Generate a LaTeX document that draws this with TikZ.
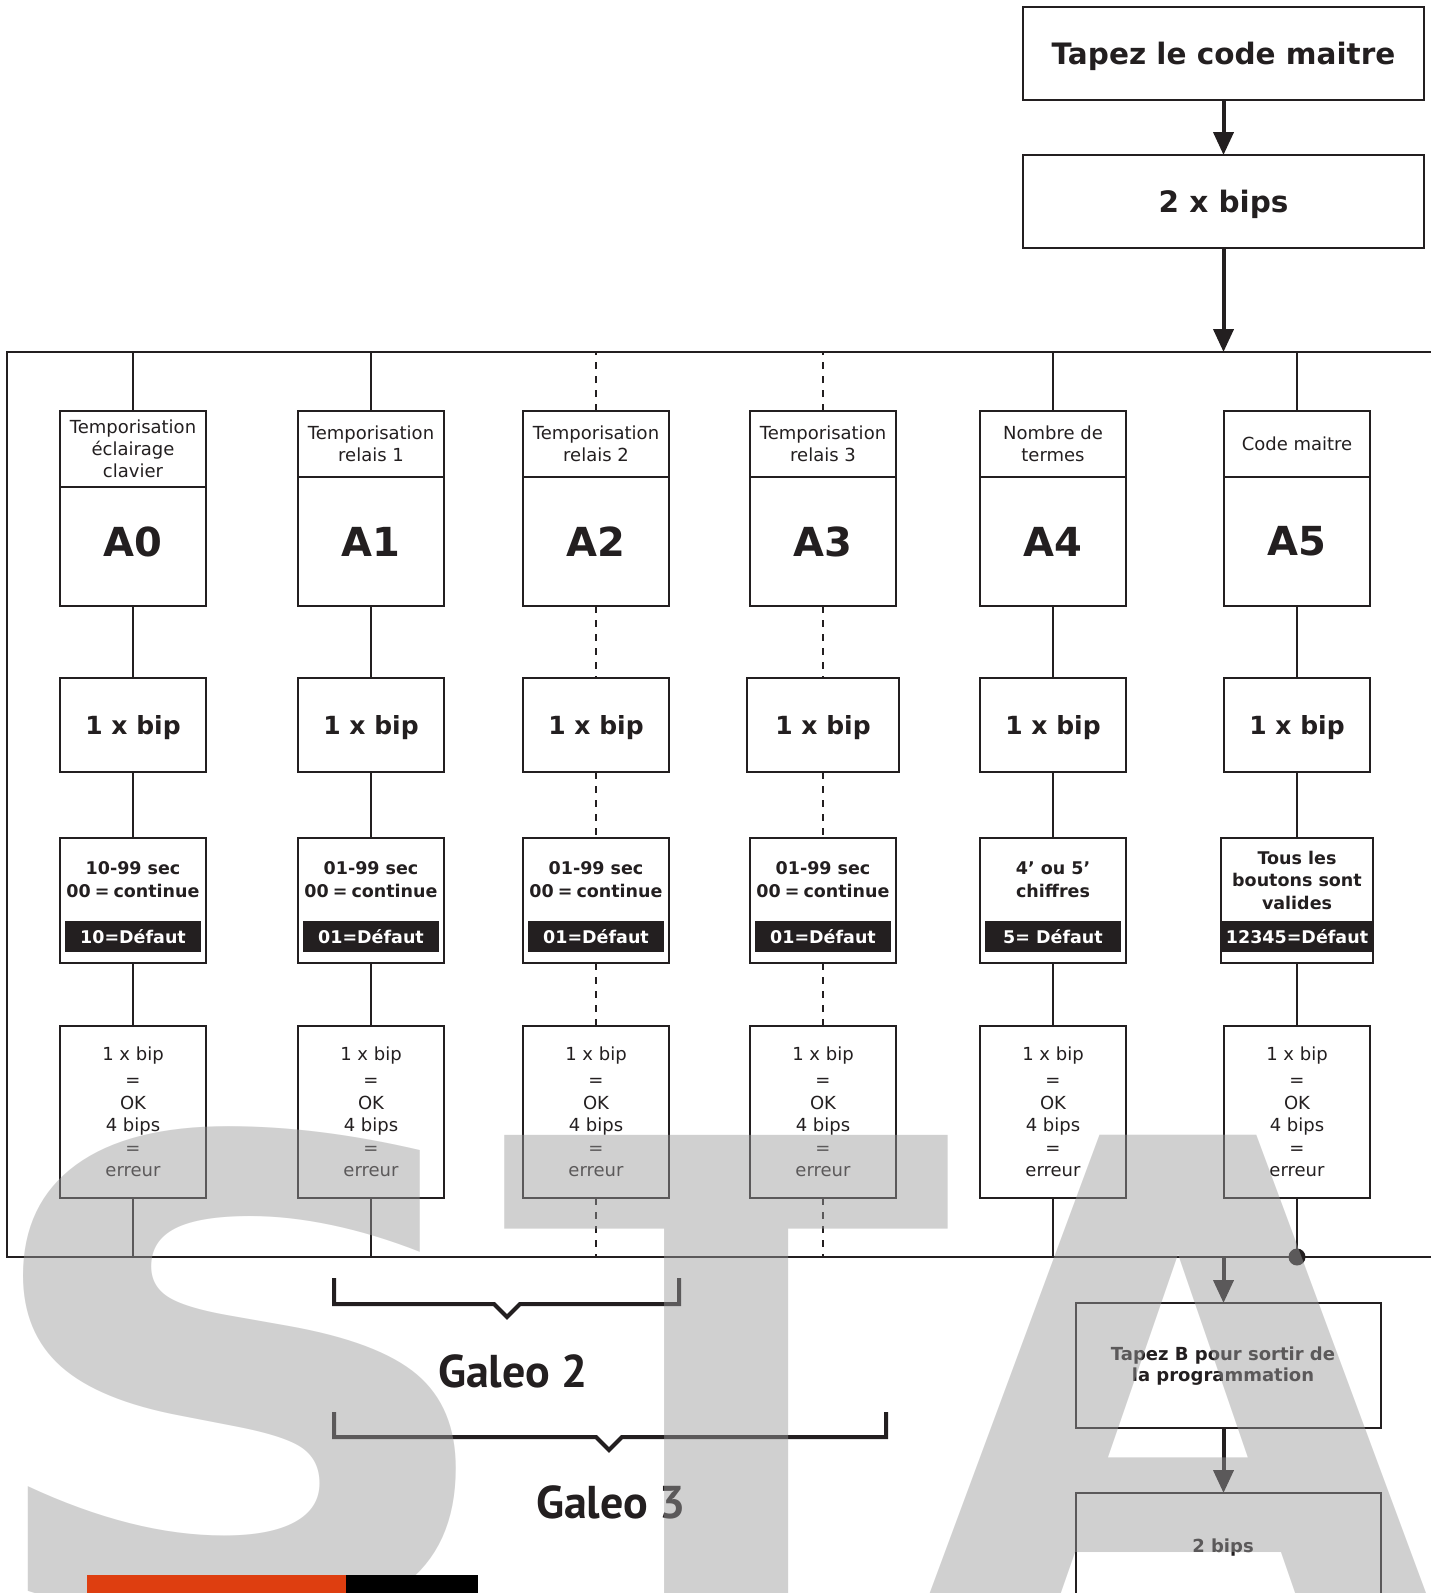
\documentclass[tikz,border=0pt]{standalone}
\usepackage{fontspec}
\setmainfont{DejaVu Sans}
\newfontfamily\galeofont{PT Sans}
\usetikzlibrary{arrows.meta,positioning}
\definecolor{encre}{RGB}{35,31,32}
\definecolor{orangesta}{RGB}{222,62,16}
\newcommand{\eg}{\hspace{4pt}=\hspace{4pt}}

\begin{document}
\begin{tikzpicture}[x=1pt,y=-1pt,
  boite/.style={draw=encre,line width=2pt,inner sep=0pt,outer sep=0pt,minimum width=146pt,text=encre,align=center},
  titre/.style={boite,minimum height=66pt,font=\fontsize{18}{22}\selectfont},
  adresse/.style={boite,minimum height=129pt,font=\bfseries\fontsize{40}{48}\selectfont},
  bip/.style={boite,minimum height=94pt,text depth=0pt,font=\bfseries\fontsize{25}{30}\selectfont},
  valeur/.style={boite,minimum height=125pt},
  ok/.style={boite,minimum height=172pt,font=\fontsize{18}{22.5}\selectfont},
  texte/.style={text=encre,align=center,inner sep=0pt,font=\bfseries\fontsize{17.5}{23}\selectfont},
  defaut/.style={fill=encre,text=white,inner sep=0pt,minimum width=136pt,minimum height=31pt,font=\bfseries\fontsize{17.5}{21}\selectfont},
  lien/.style={draw=encre,line width=2pt},
  tirets/.style={lien,dash pattern=on 7pt off 7pt},
  fleche/.style={draw=encre,line width=4pt,-{Triangle[length=23pt,width=20pt]}},
  accolade/.style={draw=encre,line width=4pt,line join=miter},
  galeo/.style={text=encre,inner sep=0pt,font=\galeofont\bfseries\fontsize{46}{50}\selectfont},
  filigrane/.style={text=black!39,text opacity=.47,inner sep=0pt,font=\bfseries\fontsize{660}{660}\selectfont}]
\useasboundingbox (0,0) rectangle (1430,1593);

\node[boite,minimum width=401pt,minimum height=93pt,text depth=0pt,font=\bfseries\fontsize{29.5}{34}\selectfont] (maitre) at (1223.5,53.5) {Tapez le code maitre};
\node[boite,minimum width=401pt,minimum height=93pt,text depth=0pt,font=\bfseries\fontsize{29.5}{34}\selectfont] (bips2) at (1223.5,201.5) {2 x bips};
\node[draw=encre,line width=2pt,inner sep=0pt,outer sep=0pt,minimum width=1438pt,minimum height=905pt] (cadre) at (726,804.5) {};
\draw[fleche](maitre)--(bips2);
\draw[fleche](bips2)--(bips2.south|-cadre.north);

\node[titre,minimum height=76pt,anchor=north] (t0) at (133,411) {Temporisation\\éclairage\\clavier};
\node[adresse,minimum height=119pt,text depth=10pt,below=0pt of t0] (a0) {A0};
\node[titre,anchor=north] (t1) at (371,411) {Temporisation\\relais 1};
\node[adresse,below=0pt of t1] (a1) {A1};
\node[titre,anchor=north] (t2) at (596,411) {Temporisation\\relais 2};
\node[adresse,below=0pt of t2] (a2) {A2};
\node[titre,anchor=north] (t3) at (823,411) {Temporisation\\relais 3};
\node[adresse,below=0pt of t3] (a3) {A3};
\node[titre,anchor=north] (t4) at (1053,411) {Nombre de\\termes};
\node[adresse,below=0pt of t4] (a4) {A4};
\node[titre,anchor=north] (t5) at (1297,411) {Code maitre};
\node[adresse,below=0pt of t5] (a5) {A5};

\node[bip] (b0) at (133,725) {1 x bip};
\node[bip] (b1) at (371,725) {1 x bip};
\node[bip] (b2) at (596,725) {1 x bip};
\node[bip,minimum width=152pt] (b3) at (823,725) {1 x bip};
\node[bip] (b4) at (1053,725) {1 x bip};
\node[bip] (b5) at (1297,725) {1 x bip};

\node[valeur] (v0) at (133,900.5) {};
\node[texte] (v0t) at (133,880) {10-99 sec\\00\eg continue};
\node[defaut] (d0) at (133,936.5) {10=Défaut};
\node[valeur] (v1) at (371,900.5) {};
\node[texte] (v1t) at (371,880) {01-99 sec\\00\eg continue};
\node[defaut] (d1) at (371,936.5) {01=Défaut};
\node[valeur] (v2) at (596,900.5) {};
\node[texte] (v2t) at (596,880) {01-99 sec\\00\eg continue};
\node[defaut] (d2) at (596,936.5) {01=Défaut};
\node[valeur] (v3) at (823,900.5) {};
\node[texte] (v3t) at (823,880) {01-99 sec\\00\eg continue};
\node[defaut] (d3) at (823,936.5) {01=Défaut};
\node[valeur] (v4) at (1053,900.5) {};
\node[texte] (v4t) at (1053,880) {4’ ou 5’\\chiffres};
\node[defaut] (d4) at (1053,936.5) {5= Défaut};
\node[valeur,minimum width=152pt] (v5) at (1297,900.5) {};
\node[texte,font=\bfseries\fontsize{17.5}{22.5}\selectfont] (v5t) at (1297,880) {Tous les\\boutons sont\\valides};
\node[defaut,minimum width=152pt] (d5) at (1297,936.5) {12345=Défaut};

\node[ok] (k0) at (133,1112) {1 x bip\\[4pt]=\\OK\\4 bips\\=\\erreur};
\node[ok] (k1) at (371,1112) {1 x bip\\[4pt]=\\OK\\4 bips\\=\\erreur};
\node[ok] (k2) at (596,1112) {1 x bip\\[4pt]=\\OK\\4 bips\\=\\erreur};
\node[ok] (k3) at (823,1112) {1 x bip\\[4pt]=\\OK\\4 bips\\=\\erreur};
\node[ok] (k4) at (1053,1112) {1 x bip\\[4pt]=\\OK\\4 bips\\=\\erreur};
\node[ok] (k5) at (1297,1112) {1 x bip\\[4pt]=\\OK\\4 bips\\=\\erreur};

\draw[lien](t0)--(t0|-cadre.north);
\draw[lien](a0)--(b0);
\draw[lien](b0)--(v0);
\draw[lien](v0)--(k0);
\draw[lien](k0)--(k0|-cadre.south);
\draw[lien](t1)--(t1|-cadre.north);
\draw[lien](a1)--(b1);
\draw[lien](b1)--(v1);
\draw[lien](v1)--(k1);
\draw[lien](k1)--(k1|-cadre.south);
\draw[tirets](t2)--(t2|-cadre.north);
\draw[tirets](a2)--(b2);
\draw[tirets](b2)--(v2);
\draw[tirets](v2)--(k2);
\draw[tirets](k2)--(k2|-cadre.south);
\draw[tirets](t3)--(t3|-cadre.north);
\draw[tirets](a3)--(b3);
\draw[tirets](b3)--(v3);
\draw[tirets](v3)--(k3);
\draw[tirets](k3)--(k3|-cadre.south);
\draw[lien](t4)--(t4|-cadre.north);
\draw[lien](a4)--(b4);
\draw[lien](b4)--(v4);
\draw[lien](v4)--(k4);
\draw[lien](k4)--(k4|-cadre.south);
\draw[lien](t5)--(t5|-cadre.north);
\draw[lien](a5)--(b5);
\draw[lien](b5)--(v5);
\draw[lien](v5)--(k5);
\draw[lien](k5)--(k5|-cadre.south);
\fill[encre](k5|-cadre.south) circle (8.5);

\node[boite,minimum width=305pt,minimum height=125pt] (sortie) at (1228.5,1365.5) {};
\node[texte,font=\bfseries\fontsize{18}{21}\selectfont] (sortiet) at (1223,1366) {Tapez B pour sortir de\\la programmation};
\node[boite,minimum width=305pt,minimum height=110pt] (fin) at (1228.5,1548) {};
\node[texte,font=\bfseries\fontsize{18}{21}\selectfont] (fint) at (1223,1548) {2 bips};
\draw[fleche](bips2.south|-cadre.south)--(bips2.south|-sortie.north);
\draw[fleche](bips2.south|-sortie.south)--(bips2.south|-fin.north);

\draw[accolade](334,1278)--(334,1304)--(494,1304)--(507,1317)--(520,1304)--(679,1304)--(679,1278);
\node[galeo] (g2) at (513,1371) {Galeo 2};
\draw[accolade](334,1412)--(334,1437)--(596,1437)--(609,1450)--(622,1437)--(886,1437)--(886,1412);
\node[galeo] (g3) at (611,1502) {Galeo 3};

\node[filigrane,anchor=base,xscale=1.14,transform shape] (fs) at (240,1616) {S};
\node[filigrane,anchor=base] (ft) at (727,1616) {T};
\node[filigrane,anchor=base,font=\bfseries\fontsize{700}{700}\selectfont] (fa) at (1178,1645) {A};

\fill[orangesta](87,1575) rectangle (346,1593);
\fill[black](346,1575) rectangle (478,1593);
\end{tikzpicture}
\end{document}
